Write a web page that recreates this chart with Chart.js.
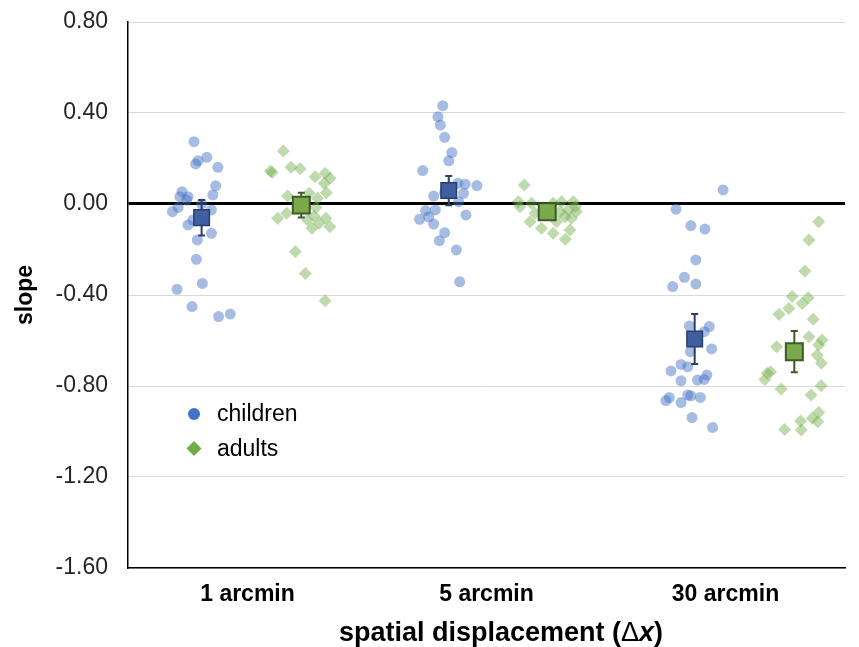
<!DOCTYPE html>
<html lang="en">
<head>
    <meta charset="UTF-8">
    <title>Slope by spatial displacement</title>
    <script src="https://cdn.jsdelivr.net/npm/chart.js"></script>
    <style>
        body {
            margin: 0;
            padding: 0;
            background: white;
        }
        #wrap {
            width: 859px;
            height: 647px;
        }
    </style>
</head>
<body>

<div id="wrap"><canvas id="slopeChart"></canvas></div>

<script>
    // category labels (x axis positions 0.5, 1.5, 2.5)
    const categoryLabels = ['1 arcmin', '5 arcmin', '30 arcmin'];

    // individual observers (x = jittered position in category units, y = slope)
    const children1X = [0.276, 0.330, 0.293, 0.283, 0.376, 0.367, 0.355, 0.226, 0.217, 0.251, 0.245, 0.186, 0.210, 0.349, 0.308, 0.251, 0.272, 0.349, 0.290, 0.286, 0.311, 0.205, 0.268, 0.379, 0.428];
    const children1Y = [0.274, 0.205, 0.190, 0.176, 0.161, 0.080, 0.040, 0.054, 0.032, 0.032, 0.018, -0.034, -0.015, -0.026, 0.000, -0.092, -0.070, -0.129, -0.158, -0.243, -0.349, -0.375, -0.451, -0.495, -0.484];
    const adults1X = [0.650, 0.603, 0.682, 0.720, 0.783, 0.825, 0.846, 0.821, 0.830, 0.758, 0.668, 0.793, 0.626, 0.664, 0.751, 0.779, 0.770, 0.800, 0.828, 0.845, 0.700, 0.742, 0.825, 0.786, 0.596];
    const adults1Y = [0.233, 0.138, 0.161, 0.155, 0.120, 0.135, 0.113, 0.091, 0.050, 0.047, 0.035, 0.025, -0.063, -0.041, -0.070, -0.053, -0.107, -0.085, -0.063, -0.100, -0.210, -0.305, -0.425, -0.015, 0.145];

    const children5X = [1.317, 1.297, 1.307, 1.325, 1.355, 1.342, 1.233, 1.460, 1.411, 1.380, 1.404, 1.383, 1.279, 1.245, 1.286, 1.220, 1.258, 1.279, 1.414, 1.325, 1.303, 1.374, 1.388, 1.325];
    const children5Y = [0.432, 0.384, 0.347, 0.293, 0.226, 0.190, 0.147, 0.081, 0.087, 0.091, 0.047, 0.010, 0.035, -0.029, -0.026, -0.067, -0.056, -0.088, -0.048, -0.126, -0.161, -0.202, -0.342, 0.050];
    const adults5X = [1.658, 1.633, 1.640, 1.689, 1.682, 1.730, 1.779, 1.830, 1.849, 1.855, 1.793, 1.814, 1.863, 1.872, 1.842, 1.779, 1.758, 1.703, 1.807, 1.876, 1.828];
    const adults5Y = [0.084, 0.010, -0.012, 0.003, -0.078, -0.107, -0.129, -0.155, -0.114, -0.063, -0.078, 0.010, 0.010, -0.012, -0.026, 0.003, -0.026, -0.041, -0.034, -0.034, -0.056];

    const children30X = [2.490, 2.293, 2.355, 2.414, 2.376, 2.328, 2.279, 2.376, 2.349, 2.432, 2.411, 2.353, 2.442, 2.314, 2.342, 2.272, 2.314, 2.383, 2.422, 2.411, 2.265, 2.251, 2.314, 2.342, 2.355, 2.395, 2.360, 2.446];
    const children30Y = [0.062, -0.023, -0.095, -0.110, -0.246, -0.322, -0.363, -0.352, -0.536, -0.539, -0.561, -0.649, -0.637, -0.705, -0.715, -0.734, -0.777, -0.774, -0.752, -0.771, -0.851, -0.864, -0.873, -0.840, -0.843, -0.850, -0.939, -0.982];
    const adults30X = [2.890, 2.849, 2.832, 2.779, 2.846, 2.765, 2.821, 2.724, 2.867, 2.849, 2.904, 2.890, 2.714, 2.883, 2.901, 2.665, 2.689, 2.675, 2.733, 2.900, 2.858, 2.890, 2.863, 2.886, 2.814, 2.747, 2.817];
    const adults30Y = [-0.078, -0.158, -0.294, -0.407, -0.412, -0.459, -0.437, -0.485, -0.507, -0.583, -0.598, -0.620, -0.627, -0.664, -0.700, -0.771, -0.737, -0.744, -0.813, -0.799, -0.840, -0.916, -0.942, -0.957, -0.954, -0.991, -0.993];

    // group means and error (+/-)
    const childMeanX = [0.308, 1.342, 2.371];
    const childMean = [-0.060, 0.059, -0.593];
    const childErr = [0.078, 0.064, 0.110];
    const adultMeanX = [0.725, 1.754, 2.788];
    const adultMean = [-0.005, -0.034, -0.649];
    const adultErr = [0.054, 0.020, 0.091];

    function zip(xs, ys) {
        return xs.map((x, i) => ({ x: x, y: ys[i] }));
    }

    const childPoints = [].concat(zip(children1X, children1Y), zip(children5X, children5Y), zip(children30X, children30Y));
    const adultPoints = [].concat(zip(adults1X, adults1Y), zip(adults5X, adults5Y), zip(adults30X, adults30Y));

    const childColor = '#4472C4';
    const adultColor = '#70AD47';
    const fontFamily = '"Liberation Sans", Arial, sans-serif';

    // error bars under the mean squares
    const errorBars = {
        id: 'errorBars',
        beforeDatasetDraw(chart, args) {
            const ds = chart.data.datasets[args.index];
            if (!ds.errors) return;
            const ctx = chart.ctx;
            const x = chart.scales.x, y = chart.scales.y;
            ctx.save();
            ctx.strokeStyle = ds.borderColor;
            ctx.lineWidth = 2;
            ds.data.forEach((p, i) => {
                const px = x.getPixelForValue(p.x);
                const top = y.getPixelForValue(p.y + ds.errors[i]);
                const bot = y.getPixelForValue(p.y - ds.errors[i]);
                ctx.beginPath();
                ctx.moveTo(px, top);
                ctx.lineTo(px, bot);
                ctx.moveTo(px - 3.5, top);
                ctx.lineTo(px + 3.5, top);
                ctx.moveTo(px - 3.5, bot);
                ctx.lineTo(px + 3.5, bot);
                ctx.stroke();
            });
            ctx.restore();
        }
    };

    // legend inside the plot and x-axis title with italic x
    const extras = {
        id: 'extras',
        afterDraw(chart) {
            const ctx = chart.ctx;
            ctx.save();
            // legend
            ctx.fillStyle = childColor;
            ctx.beginPath();
            ctx.arc(194, 414, 6, 0, Math.PI * 2);
            ctx.fill();
            ctx.fillStyle = adultColor;
            ctx.beginPath();
            ctx.moveTo(194, 441);
            ctx.lineTo(201.5, 448.5);
            ctx.lineTo(194, 456);
            ctx.lineTo(186.5, 448.5);
            ctx.closePath();
            ctx.fill();
            ctx.fillStyle = '#000';
            ctx.font = '23px ' + fontFamily;
            ctx.textBaseline = 'middle';
            ctx.textAlign = 'left';
            ctx.fillText('children', 217, 415);
            ctx.fillText('adults', 217, 450);

            // x-axis title
            const parts = [
                { t: 'spatial displacement (', f: 'bold 27px ' + fontFamily },
                { t: '\u0394', f: '27px ' + fontFamily },
                { t: 'x', f: 'italic bold 27px ' + fontFamily },
                { t: ')', f: 'bold 27px ' + fontFamily }
            ];
            let total = 0;
            parts.forEach(p => { ctx.font = p.f; p.w = ctx.measureText(p.t).width; total += p.w; });
            let cx = 501 - total / 2;
            parts.forEach(p => { ctx.font = p.f; ctx.fillText(p.t, cx, 634); cx += p.w; });
            ctx.restore();
        }
    };

    const ctx = document.getElementById('slopeChart').getContext('2d');

    new Chart(ctx, {
        type: 'scatter',
        data: {
            datasets: [
                {
                    label: 'children',
                    data: childPoints,
                    pointStyle: 'circle',
                    pointRadius: 5.5,
                    pointHoverRadius: 5.5,
                    backgroundColor: 'rgba(68, 114, 196, 0.48)',
                    borderWidth: 0,
                    order: 2
                },
                {
                    label: 'adults',
                    data: adultPoints,
                    pointStyle: 'rectRot',
                    pointRadius: 6.5,
                    pointHoverRadius: 6.5,
                    backgroundColor: 'rgba(112, 173, 71, 0.45)',
                    borderWidth: 0,
                    order: 2
                },
                {
                    label: 'children mean',
                    data: zip(childMeanX, childMean),
                    errors: childErr,
                    pointStyle: 'rect',
                    pointRadius: 11,
                    pointHoverRadius: 11,
                    backgroundColor: '#3F5FA0',
                    borderColor: '#2B3F6E',
                    borderWidth: 1.5,
                    order: 1
                },
                {
                    label: 'adults mean',
                    data: zip(adultMeanX, adultMean),
                    errors: adultErr,
                    pointStyle: 'rect',
                    pointRadius: 12,
                    pointHoverRadius: 12,
                    backgroundColor: '#7AAA4B',
                    borderColor: '#3E5A26',
                    borderWidth: 2,
                    order: 1
                }
            ]
        },
        options: {
            responsive: true,
            maintainAspectRatio: false,
            animation: false,
            layout: {
                padding: { top: 22, right: 10, left: 0, bottom: 0 }
            },
            scales: {
                x: {
                    type: 'linear',
                    min: 0,
                    max: 3,
                    afterBuildTicks: (scale) => {
                        scale.ticks = [{ value: 0.5 }, { value: 1.5 }, { value: 2.5 }];
                    },
                    afterFit: (scale) => {
                        scale.height = 79;
                        scale.paddingLeft = 0;
                        scale.paddingRight = 0;
                    },
                    grid: { color: 'transparent', drawTicks: false },
                    border: { color: '#000', width: 1.5 },
                    ticks: {
                        padding: 13,
                        color: '#000',
                        font: { family: fontFamily, size: 23, weight: 'bold' },
                        callback: (value, index) => categoryLabels[index]
                    }
                },
                y: {
                    min: -1.6,
                    max: 0.8,
                    afterFit: (scale) => {
                        scale.width = 128;
                        scale.paddingTop = 0;
                        scale.paddingBottom = 0;
                    },
                    grid: {
                        drawTicks: false,
                        color: (c) => Math.abs(c.tick.value) < 1e-9 ? '#000' : '#d9d9d9',
                        lineWidth: (c) => Math.abs(c.tick.value) < 1e-9 ? 3 : 1
                    },
                    border: { color: '#000', width: 1.5 },
                    ticks: {
                        stepSize: 0.4,
                        padding: 20,
                        color: '#262626',
                        font: { family: fontFamily, size: 23 },
                        callback: (value) => value.toFixed(2)
                    },
                    title: {
                        display: true,
                        text: 'slope',
                        color: '#000',
                        padding: { top: 12, bottom: 0 },
                        font: { family: fontFamily, size: 23, weight: 'bold' }
                    }
                }
            },
            plugins: {
                legend: { display: false },
                tooltip: { enabled: false }
            }
        },
        plugins: [errorBars, extras]
    });
</script>

</body>
</html>
